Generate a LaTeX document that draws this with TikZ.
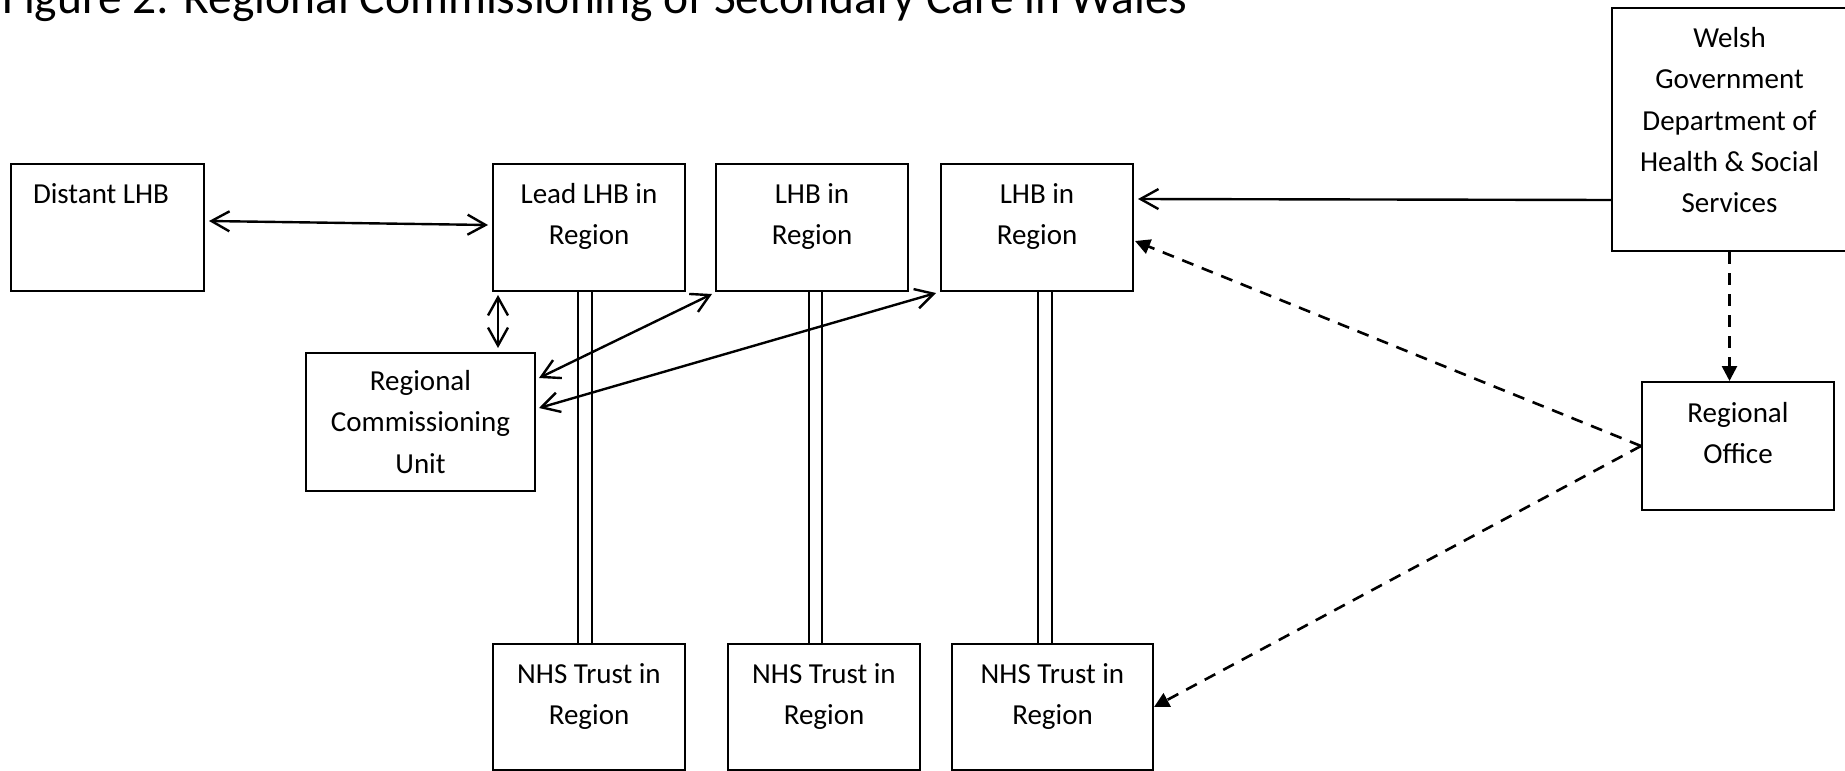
\documentclass[tikz,border=0pt]{standalone}
\usepackage{fontspec}
\setmainfont{Carlito}
\usetikzlibrary{arrows.meta,calc}
\newcommand{\boxtxt}[4]{\parbox[t][#2][t]{#1}{\centering\rule{0pt}{#3}#4}}
\begin{document}
\begin{tikzpicture}[x=1pt,y=-1pt,
  box/.style={draw, line width=2pt, inner sep=0pt, anchor=north west,
    font=\fontsize{29pt}{41.25pt}\selectfont},
  twoway/.style={line width=2.4pt,
    {Straight Barb[length=18pt,width=20pt]}-{Straight Barb[length=18pt,width=20pt]}},
  oneway/.style={line width=2.4pt, -{Straight Barb[length=18pt,width=20pt]}},
  dashlink/.style={line width=2.6pt, dash pattern=on 12pt off 9pt,
    -{Triangle[length=15pt,width=15pt]}},
  pipe/.style={line width=2pt}
]
\useasboundingbox (0,0) rectangle (1845,771);
\clip (0,0) rectangle (1845,771);

\node[anchor=base west, inner sep=0pt, font=\fontsize{47.5pt}{57pt}\selectfont]
  (title) at (2,13) {Figure 2: Regional Commissioning of Secondary Care in Wales};

% boxes
\node[box] (dist) at (10,163)
  {\parbox[t][127pt][t]{193pt}{\raggedright\hspace*{22pt}\rule{0pt}{39.5pt}Distant LHB}};
\node[box] (lead) at (492,163) {\boxtxt{192pt}{127pt}{39.5pt}{Lead LHB in\\Region}};
\node[box] (lhbb) at (715,163) {\boxtxt{192pt}{127pt}{39.5pt}{LHB in\\Region}};
\node[box] (lhbc) at (940,163) {\boxtxt{192pt}{127pt}{39.5pt}{LHB in\\Region}};
\node[box] (welsh) at (1611,7) {\boxtxt{235pt}{243pt}{39.5pt}{Welsh\\Government\\Department of\\Health \& Social\\Services}};
\node[box] (rcu) at (305,352) {\boxtxt{229pt}{138pt}{37.5pt}{Regional\\Commissioning\\Unit}};
\node[box] (ro) at (1641,381) {\boxtxt{192pt}{128pt}{40pt}{Regional\\Office}};
\node[box] (nhsa) at (492,643) {\boxtxt{192pt}{126pt}{39.5pt}{NHS Trust in\\Region}};
\node[box] (nhsb) at (727,643) {\boxtxt{192pt}{126pt}{39.5pt}{NHS Trust in\\Region}};
\node[box] (nhsc) at (951,643) {\boxtxt{201pt}{126pt}{39.5pt}{NHS Trust in\\Region}};

% double vertical links
\foreach \s in {-11,3}{
  \draw[pipe] ([xshift=\s pt]lead.south) -- ([xshift=\s pt]lead.south |- nhsa.north);}
\foreach \s in {-3,10}{
  \draw[pipe] ([xshift=\s pt]lhbb.south) -- ([xshift=\s pt]lhbb.south |- nhsb.north);}
\foreach \s in {1,15}{
  \draw[pipe] ([xshift=\s pt]lhbc.south) -- ([xshift=\s pt]lhbc.south |- nhsc.north);}

% solid arrows
\draw[twoway] ([xshift=4pt,yshift=6.5pt]dist.east) -- ([xshift=-4pt,yshift=2.5pt]lead.west);
\draw[twoway, shorten <=3pt, shorten >=4pt] ([xshift=6pt]lead.south west) -- ([xshift=6pt]lead.south west |- rcu.north);
\draw[twoway] ([xshift=3pt,yshift=-26pt]rcu.north east) -- ([xshift=-3pt,yshift=-2pt]lhbb.south west);
\draw[twoway] ([xshift=3pt,yshift=-56pt]rcu.north east) -- ([xshift=-4pt,yshift=-1pt]lhbc.south west);
\draw[oneway] ([yshift=-193pt]welsh.north west) -- ([xshift=4pt,yshift=-36pt]lhbc.north east);

% dashed arrows
\draw[dashlink] (welsh.south) -- (welsh.south |- ro.north);
\draw[dashlink] (ro.west) -- ([xshift=1pt,yshift=-13.5pt]lhbc.east);
\draw[dashlink] (ro.west) -- (nhsc.east);
\end{tikzpicture}
\end{document}
